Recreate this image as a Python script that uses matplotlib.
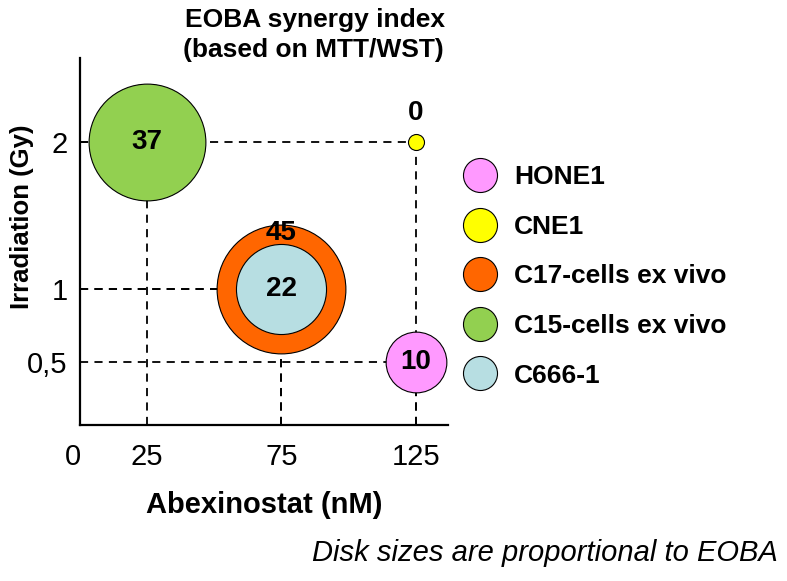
import numpy as np
import matplotlib.pyplot as plt
from matplotlib.lines import Line2D
from matplotlib.transforms import ScaledTranslation

plt.rcParams['font.family'] = ['Liberation Sans', 'DejaVu Sans']

# data
cell_lines = ['HONE1', 'CNE1', 'C17-cells ex vivo', 'C15-cells ex vivo', 'C666-1']
abexinostat_nM = [125, 125, 75, 25, 75]
irradiation_gy = [0.5, 2, 1, 2, 1]
eoba = [10, 0, 45, 37, 22]
colors = ['#FF99FF', '#FFFF00', '#FF6600', '#92D050', '#B7DEE2']

x_ticks = [0, 25, 75, 125]
y_ticks = [0.5, 1, 2]
y_ticklabels = ['0,5', '1', '2']

fig = plt.figure(figsize=(7.87, 5.81), dpi=100)
ax = fig.add_axes([0.1017, 0.2685, 0.4673, 0.6315])

# disk area proportional to EOBA (radius in px), small minimum for 0
def disk_size(v):
    r_px = max(9.6 * np.sqrt(v), 8)
    return (2 * r_px * 0.72) ** 2

# dashed guide lines (drawn under the disks)
dash = dict(color='black', lw=1.3, ls=(0, (4.5, 3.5)), zorder=1)
ymin, ymax = 0.07, 2.57
for x, y in zip(abexinostat_nM, irradiation_gy):
    ax.plot([x, x], [ymin, y], **dash)
    ax.plot([0, x], [y, y], **dash)

order = np.argsort(eoba)[::-1]
for z, i in enumerate(order):
    ax.scatter(abexinostat_nM[i], irradiation_gy[i], s=disk_size(eoba[i]),
               color=colors[i], edgecolor='black', linewidth=0.8, zorder=3 + z)

# value labels
label_offsets = {'HONE1': (0, 0), 'CNE1': (0, 21), 'C17-cells ex vivo': (0, 40),
                 'C15-cells ex vivo': (0, 0), 'C666-1': (0, 0)}
for name, x, y, v in zip(cell_lines, abexinostat_nM, irradiation_gy, eoba):
    ax.annotate(str(v), (x, y), xytext=label_offsets[name], textcoords='offset points',
                ha='center', va='center', fontsize=20, fontweight='bold', zorder=20)

ax.set_xlim(0, 137)
ax.set_ylim(ymin, ymax)
ax.set_xticks(x_ticks)
ax.set_xticklabels([str(t) for t in x_ticks])
ax.set_yticks(y_ticks)
ax.set_yticklabels(y_ticklabels)
ax.tick_params(axis='both', length=0, labelsize=21)
ax.tick_params(axis='x', pad=13)
ax.tick_params(axis='y', pad=9)
for s in ['top', 'right']:
    ax.spines[s].set_visible(False)
for s in ['left', 'bottom']:
    ax.spines[s].set_linewidth(1.6)

# the "0" sits a bit left of the corner
lab0 = ax.get_xticklabels()[0]
lab0.set_transform(lab0.get_transform() + ScaledTranslation(-0.07, 0, fig.dpi_scale_trans))

ax.set_xlabel('Abexinostat (nM)', fontsize=21, fontweight='bold', va='center')
ax.xaxis.set_label_coords(0.5, -0.218)
ax.set_ylabel('Irradiation (Gy)', fontsize=18.5, fontweight='bold', va='center')
ax.yaxis.set_label_coords(-0.158, 0.567)

fig.text(185 / 787, 1 - 20 / 581, 'EOBA synergy index', ha='left', va='center',
         fontsize=19, fontweight='bold')
fig.text(183 / 787, 1 - 50 / 581, '(based on MTT/WST)', ha='left', va='center',
         fontsize=19, fontweight='bold')
fig.text(778 / 787, 1 - 553 / 581, 'Disk sizes are proportional to EOBA', ha='right',
         va='center', fontsize=21, style='italic')

handles = [Line2D([], [], ls='none', marker='o', markersize=24.5, markerfacecolor=c,
                  markeredgecolor='black', markeredgewidth=0.8) for c in colors]
fig.legend(handles, cell_lines, loc='upper left', bbox_to_anchor=(451 / 787, 1 - 152 / 581),
           frameon=False, prop={'weight': 'bold', 'size': 19},
           labelspacing=0.97, handletextpad=0.69, borderpad=0, handlelength=1.2)

fig.savefig('out.png', dpi=100)
